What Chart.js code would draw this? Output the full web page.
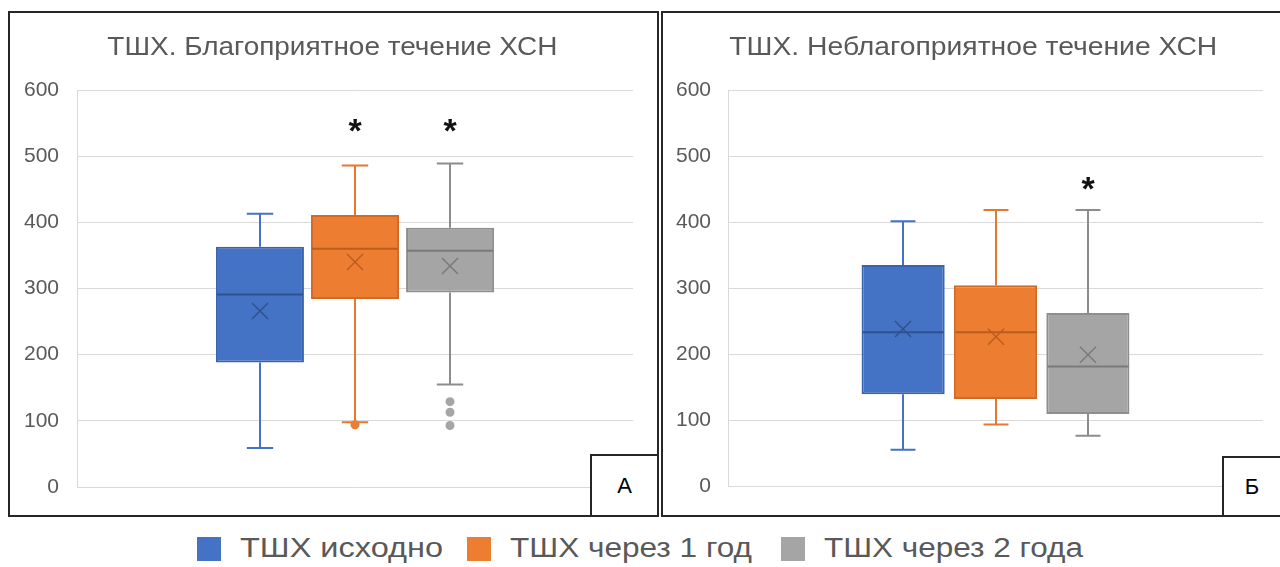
<!DOCTYPE html>
<html><head><meta charset="utf-8">
<script src="https://cdn.jsdelivr.net/npm/chart.js@4.4.1/dist/chart.umd.min.js"></script>
<style>
html,body{margin:0;padding:0;background:#fff;width:1280px;height:567px;overflow:hidden;font-family:"Liberation Sans",Arial,sans-serif;}
#wrap{position:relative;width:1280px;height:567px;overflow:hidden;}
canvas{position:absolute;top:0;}
.panel{position:absolute;border:2px solid #262626;box-sizing:border-box;pointer-events:none;}
.tag{position:absolute;border:2px solid #262626;box-sizing:border-box;background:#fff;font-size:22px;color:#000;text-align:center;}
.title{position:absolute;white-space:nowrap;font-size:26px;line-height:26px;color:#595959;transform-origin:center center;}
.sw{position:absolute;width:24px;height:24px;}
.lt{position:absolute;white-space:nowrap;font-size:27px;line-height:27px;color:#595959;transform-origin:left center;}
</style>
</head><body>
<div id="wrap">
  <canvas id="cA" width="660" height="520" style="left:0"></canvas>
  <canvas id="cB" width="620" height="520" style="left:660px"></canvas>
  <div class="panel" style="left:8px;top:11px;width:651px;height:506px"></div>
  <div class="panel" style="left:661px;top:11px;width:640px;height:506px"></div>
  <div class="tag" style="left:590px;top:454px;width:69px;height:63px;line-height:59px">А</div>
  <div class="tag" style="left:1222px;top:456px;width:70px;height:61px;line-height:57px;text-indent:-10px">Б</div>
  <div class="title" id="tA" data-cx="332" data-w="450" style="top:33px">ТШХ. Благоприятное течение ХСН</div>
  <div class="title" id="tB" data-cx="973" data-w="488" style="top:33px">ТШХ. Неблагоприятное течение ХСН</div>
  <div id="legend"></div>
</div>
<script>
// ---- data ----
const seriesNames = ['ТШХ исходно', 'ТШХ через 1 год', 'ТШХ через 2 года'];
const yTicks = [0, 100, 200, 300, 400, 500, 600];

// Panel A: ТШХ. Благоприятное течение ХСН
const minA = [59, 98, 155];
const q1A = [188, 284, 294];
const medianA = [291, 360, 357];
const q3A = [363, 411, 392];
const maxA = [413, 486, 489];
const meanA = [266, 340, 334];
const outliersA = [[], [94], [129, 113, 93]];
const signifA = ['', '*', '*'];

// Panel B: ТШХ. Неблагоприятное течение ХСН
const minB = [55, 93, 76];
const q1B = [139, 132, 109];
const medianB = [233, 233, 181];
const q3B = [335, 304, 262];
const maxB = [401, 418, 418];
const meanB = [238, 226, 199];
const outliersB = [[], [], []];
const signifB = ['', '', '*'];

// ---- styles ----
const fillC = ['#4472C4', '#ED7D31', '#A5A5A5'];
const edgeC = ['#3A63AE', '#D06A28', '#8E8E8E'];
const whiskC = ['#4472C4', '#E5772F', '#8C8C8C'];
const medC = ['#2F528F', '#B95E21', '#7A7A7A'];
const FONT = '"Liberation Sans", Arial, sans-serif';

function boxPlugin(d) {
  return {
    id: 'boxExtras',
    beforeDatasetsDraw(chart) {
      const ctx = chart.ctx, y = chart.scales.y;
      d.q1.forEach((_, i) => {
        const el = chart.getDatasetMeta(i).data[0];
        const x = Math.round(el.x), cw = el.width * 0.3;
        const yMax = y.getPixelForValue(d.max[i]), yMin = y.getPixelForValue(d.min[i]);
        ctx.save();
        ctx.strokeStyle = whiskC[i]; ctx.lineWidth = 2;
        ctx.beginPath();
        ctx.moveTo(x, y.getPixelForValue(d.q3[i])); ctx.lineTo(x, yMax);
        ctx.moveTo(x, y.getPixelForValue(d.q1[i])); ctx.lineTo(x, yMin);
        ctx.moveTo(x - cw / 2, yMax); ctx.lineTo(x + cw / 2, yMax);
        ctx.moveTo(x - cw / 2, yMin); ctx.lineTo(x + cw / 2, yMin);
        ctx.stroke();
        ctx.restore();
      });
    },
    afterDatasetsDraw(chart) {
      const ctx = chart.ctx, y = chart.scales.y;
      d.q1.forEach((_, i) => {
        const el = chart.getDatasetMeta(i).data[0];
        const x = Math.round(el.x), w = el.width;
        ctx.save();
        // median
        const ym = y.getPixelForValue(d.med[i]);
        ctx.strokeStyle = medC[i]; ctx.lineWidth = 2;
        ctx.beginPath(); ctx.moveTo(x - w / 2 + 1, ym); ctx.lineTo(x + w / 2 - 1, ym); ctx.stroke();
        // mean X
        const yc = y.getPixelForValue(d.mean[i]), r = 8;
        ctx.lineWidth = 1.5;
        ctx.beginPath();
        ctx.moveTo(x - r, yc - r); ctx.lineTo(x + r, yc + r);
        ctx.moveTo(x + r, yc - r); ctx.lineTo(x - r, yc + r);
        ctx.stroke();
        // outliers
        ctx.fillStyle = fillC[i];
        d.out[i].forEach(v => {
          ctx.beginPath(); ctx.arc(x, y.getPixelForValue(v), 4.5, 0, Math.PI * 2); ctx.fill();
        });
        // significance mark
        if (d.sig[i]) {
          ctx.fillStyle = '#111';
          ctx.font = 'bold 34px ' + FONT;
          ctx.textAlign = 'center';
          ctx.textBaseline = 'alphabetic';
          const m = ctx.measureText(d.sig[i]);
          const cy = y.getPixelForValue(d.sigLevel);
          ctx.fillText(d.sig[i], x, cy + (m.actualBoundingBoxAscent - m.actualBoundingBoxDescent) / 2);
        }
        ctx.restore();
      });
    }
  };
}

function makeChart(id, d, L) {
  const datasets = d.q1.map((v, i) => ({
    label: seriesNames[i],
    data: [[d.q1[i], d.q3[i]]],
    backgroundColor: fillC[i],
    borderColor: edgeC[i],
    borderWidth: 2,
    borderSkipped: false,
    categoryPercentage: L.cp,
    barPercentage: L.bp
  }));
  return new Chart(document.getElementById(id), {
    type: 'bar',
    data: { labels: [''], datasets },
    options: {
      responsive: false,
      animation: false,
      events: [],
      layout: { padding: { top: L.top, bottom: L.bottom, left: 0, right: L.right } },
      plugins: { legend: { display: false }, tooltip: { enabled: false }, title: { display: false } },
      scales: {
        x: { display: false },
        y: {
          min: 0, max: 600,
          afterBuildTicks: s => { s.ticks = yTicks.map(v => ({ value: v })); },
          afterFit: s => { s.width = L.axisW; },
          grid: { color: '#d9d9d9', lineWidth: 1, drawTicks: false },
          border: { display: true, color: '#d9d9d9', width: 1 },
          ticks: { padding: L.tickPad, color: '#595959', font: { family: FONT, size: 21 } }
        }
      }
    },
    plugins: [boxPlugin(d)]
  });
}

makeChart('cA', { min: minA, q1: q1A, med: medianA, q3: q3A, max: maxA, mean: meanA, out: outliersA, sig: signifA, sigLevel: 547 },
  { top: 90, bottom: 33, right: 27, axisW: 77, tickPad: 18, cp: 0.513, bp: 0.926 });
makeChart('cB', { min: minB, q1: q1B, med: medianB, q3: q3B, max: maxB, mean: meanB, out: outliersB, sig: signifB, sigLevel: 458 },
  { top: 90, bottom: 34, right: 17, axisW: 68, tickPad: 17, cp: 0.518, bp: 0.90 });

// titles: centre and fit width
document.querySelectorAll('.title').forEach(el => {
  const nat = el.getBoundingClientRect().width;
  const cx = +el.dataset.cx, tw = +el.dataset.w;
  el.style.left = (cx - nat / 2) + 'px';
  el.style.transform = 'scaleX(' + (tw / nat) + ')';
});

// legend (HTML)
const legSw = [197, 467, 781];
const legTx = [240, 510, 824];
const legW = [203, 242, 259];
const leg = document.getElementById('legend');
seriesNames.forEach((n, i) => {
  const s = document.createElement('div');
  s.className = 'sw';
  s.style.cssText = 'left:' + legSw[i] + 'px;top:537px;background:' + fillC[i] + ';';
  leg.appendChild(s);
  const t = document.createElement('div');
  t.className = 'lt';
  t.textContent = n;
  t.style.left = legTx[i] + 'px';
  t.style.top = '535px';
  leg.appendChild(t);
  const nat = t.getBoundingClientRect().width;
  t.style.transform = 'scaleX(' + (legW[i] / nat) + ')';
});
</script>
</body></html>
